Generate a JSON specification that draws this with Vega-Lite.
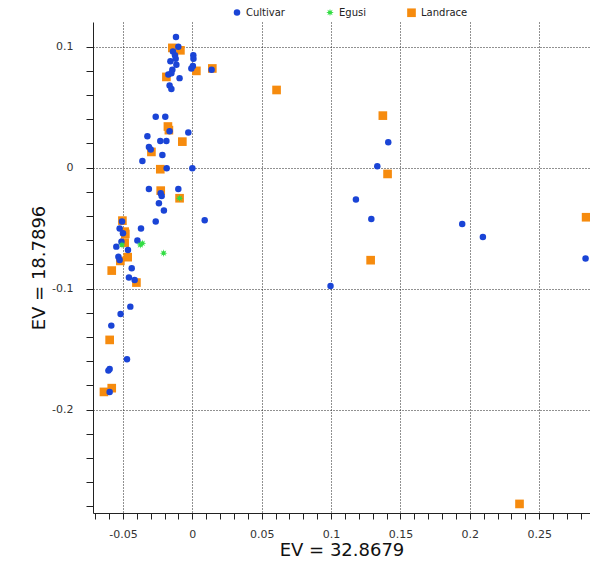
{
  "$schema": "https://vega.github.io/schema/vega-lite/v6.json",
  "autosize": {"type": "none"},
  "padding": {"left": 93, "top": 22, "right": 0, "bottom": 59},
  "width": 497,
  "height": 491,
  "background": "white",
  "config": {
    "view": {"stroke": null},
    "axis": {
      "domainColor": "#222",
      "tickColor": "#222",
      "labelColor": "#333",
      "labelFont": "DejaVu Sans",
      "labelFontSize": 11,
      "titleFont": "DejaVu Sans",
      "titleFontWeight": "normal",
      "titleFontSize": 18,
      "titleColor": "#111",
      "gridColor": "#222",
      "gridDash": [1, 2],
      "gridWidth": 1
    }
  },
  "data": {
    "values": [
      {"group": "Landrace", "pc1": -0.0144, "pc2": 0.099},
      {"group": "Landrace", "pc1": -0.0086, "pc2": 0.097},
      {"group": "Landrace", "pc1": 0.0029, "pc2": 0.080},
      {"group": "Landrace", "pc1": 0.0144, "pc2": 0.082},
      {"group": "Landrace", "pc1": -0.0187, "pc2": 0.075},
      {"group": "Landrace", "pc1": -0.0176, "pc2": 0.034},
      {"group": "Landrace", "pc1": -0.0169, "pc2": 0.031},
      {"group": "Landrace", "pc1": -0.0072, "pc2": 0.0215},
      {"group": "Landrace", "pc1": -0.0295, "pc2": 0.013},
      {"group": "Landrace", "pc1": -0.0231, "pc2": -0.0013},
      {"group": "Landrace", "pc1": -0.0228, "pc2": -0.019},
      {"group": "Landrace", "pc1": -0.0092, "pc2": -0.0253},
      {"group": "Landrace", "pc1": -0.0504, "pc2": -0.0438},
      {"group": "Landrace", "pc1": -0.0488, "pc2": -0.0529},
      {"group": "Landrace", "pc1": -0.0483, "pc2": -0.0548},
      {"group": "Landrace", "pc1": -0.0488, "pc2": -0.062},
      {"group": "Landrace", "pc1": -0.0466, "pc2": -0.074},
      {"group": "Landrace", "pc1": -0.0519, "pc2": -0.0771},
      {"group": "Landrace", "pc1": -0.0581, "pc2": -0.0851},
      {"group": "Landrace", "pc1": -0.0403, "pc2": -0.095},
      {"group": "Landrace", "pc1": -0.0596, "pc2": -0.1424},
      {"group": "Landrace", "pc1": -0.0581, "pc2": -0.1823},
      {"group": "Landrace", "pc1": -0.0637, "pc2": -0.1854},
      {"group": "Landrace", "pc1": 0.1373, "pc2": 0.043},
      {"group": "Landrace", "pc1": 0.0607, "pc2": 0.0642},
      {"group": "Landrace", "pc1": 0.1407, "pc2": -0.0052},
      {"group": "Landrace", "pc1": 0.1285, "pc2": -0.0765},
      {"group": "Landrace", "pc1": 0.2838, "pc2": -0.041},
      {"group": "Landrace", "pc1": 0.2358, "pc2": -0.278},
      {"group": "Cultivar", "pc1": -0.0118, "pc2": 0.108},
      {"group": "Cultivar", "pc1": -0.0101, "pc2": 0.100},
      {"group": "Cultivar", "pc1": -0.0140, "pc2": 0.096},
      {"group": "Cultivar", "pc1": 0.0007, "pc2": 0.093},
      {"group": "Cultivar", "pc1": 0.0008, "pc2": 0.090},
      {"group": "Cultivar", "pc1": -0.0125, "pc2": 0.093},
      {"group": "Cultivar", "pc1": -0.0158, "pc2": 0.088},
      {"group": "Cultivar", "pc1": -0.0120, "pc2": 0.090},
      {"group": "Cultivar", "pc1": -0.0115, "pc2": 0.085},
      {"group": "Cultivar", "pc1": 0.0004, "pc2": 0.084},
      {"group": "Cultivar", "pc1": -0.0007, "pc2": 0.082},
      {"group": "Cultivar", "pc1": 0.0139, "pc2": 0.081},
      {"group": "Cultivar", "pc1": -0.0144, "pc2": 0.081},
      {"group": "Cultivar", "pc1": -0.0173, "pc2": 0.077},
      {"group": "Cultivar", "pc1": -0.0151, "pc2": 0.078},
      {"group": "Cultivar", "pc1": -0.0092, "pc2": 0.074},
      {"group": "Cultivar", "pc1": -0.0164, "pc2": 0.068},
      {"group": "Cultivar", "pc1": -0.0151, "pc2": 0.065},
      {"group": "Cultivar", "pc1": -0.0264, "pc2": 0.042},
      {"group": "Cultivar", "pc1": -0.0195, "pc2": 0.042},
      {"group": "Cultivar", "pc1": -0.0164, "pc2": 0.030},
      {"group": "Cultivar", "pc1": -0.0029, "pc2": 0.029},
      {"group": "Cultivar", "pc1": -0.0324, "pc2": 0.026},
      {"group": "Cultivar", "pc1": -0.0231, "pc2": 0.022},
      {"group": "Cultivar", "pc1": -0.0187, "pc2": 0.022},
      {"group": "Cultivar", "pc1": -0.0313, "pc2": 0.017},
      {"group": "Cultivar", "pc1": -0.0300, "pc2": 0.015},
      {"group": "Cultivar", "pc1": -0.0216, "pc2": 0.0105},
      {"group": "Cultivar", "pc1": -0.0360, "pc2": 0.0055},
      {"group": "Cultivar", "pc1": -0.0185, "pc2": -0.0005},
      {"group": "Cultivar", "pc1": 0.0, "pc2": -0.0005},
      {"group": "Cultivar", "pc1": -0.0313, "pc2": -0.0176},
      {"group": "Cultivar", "pc1": -0.0228, "pc2": -0.0212},
      {"group": "Cultivar", "pc1": -0.0221, "pc2": -0.0234},
      {"group": "Cultivar", "pc1": -0.0101, "pc2": -0.0176},
      {"group": "Cultivar", "pc1": -0.0241, "pc2": -0.0294},
      {"group": "Cultivar", "pc1": -0.0205, "pc2": -0.0355},
      {"group": "Cultivar", "pc1": -0.0264, "pc2": -0.0446},
      {"group": "Cultivar", "pc1": -0.0507, "pc2": -0.0446},
      {"group": "Cultivar", "pc1": -0.0370, "pc2": -0.0504},
      {"group": "Cultivar", "pc1": -0.0524, "pc2": -0.0504},
      {"group": "Cultivar", "pc1": -0.0500, "pc2": -0.0542},
      {"group": "Cultivar", "pc1": -0.0396, "pc2": -0.0603},
      {"group": "Cultivar", "pc1": -0.0511, "pc2": -0.0612},
      {"group": "Cultivar", "pc1": -0.0548, "pc2": -0.0653},
      {"group": "Cultivar", "pc1": -0.0464, "pc2": -0.068},
      {"group": "Cultivar", "pc1": -0.0533, "pc2": -0.0736},
      {"group": "Cultivar", "pc1": -0.0524, "pc2": -0.0763},
      {"group": "Cultivar", "pc1": -0.0437, "pc2": -0.0831},
      {"group": "Cultivar", "pc1": -0.0457, "pc2": -0.0909},
      {"group": "Cultivar", "pc1": -0.0416, "pc2": -0.0928},
      {"group": "Cultivar", "pc1": 0.0089, "pc2": -0.0435},
      {"group": "Cultivar", "pc1": -0.0447, "pc2": -0.1149},
      {"group": "Cultivar", "pc1": -0.0517, "pc2": -0.1209},
      {"group": "Cultivar", "pc1": -0.0584, "pc2": -0.1306},
      {"group": "Cultivar", "pc1": -0.0471, "pc2": -0.1584},
      {"group": "Cultivar", "pc1": -0.0596, "pc2": -0.1664},
      {"group": "Cultivar", "pc1": -0.0605, "pc2": -0.1678},
      {"group": "Cultivar", "pc1": -0.0596, "pc2": -0.1854},
      {"group": "Cultivar", "pc1": 0.1412, "pc2": 0.021},
      {"group": "Cultivar", "pc1": 0.1333, "pc2": 0.0011},
      {"group": "Cultivar", "pc1": 0.1179, "pc2": -0.0264},
      {"group": "Cultivar", "pc1": 0.1290, "pc2": -0.0424},
      {"group": "Cultivar", "pc1": 0.0996, "pc2": -0.0978},
      {"group": "Cultivar", "pc1": 0.1945, "pc2": -0.0465},
      {"group": "Cultivar", "pc1": 0.2094, "pc2": -0.0573},
      {"group": "Cultivar", "pc1": 0.2834, "pc2": -0.0752},
      {"group": "Egusi", "pc1": -0.0092, "pc2": -0.0253},
      {"group": "Egusi", "pc1": -0.0360, "pc2": -0.0625},
      {"group": "Egusi", "pc1": -0.0375, "pc2": -0.0639},
      {"group": "Egusi", "pc1": -0.0507, "pc2": -0.0639},
      {"group": "Egusi", "pc1": -0.0207, "pc2": -0.0707}
    ]
  },
  "mark": {"type": "point", "filled": true, "opacity": 1, "clip": true},
  "encoding": {
    "x": {
      "field": "pc1",
      "type": "quantitative",
      "scale": {"domain": [-0.0716, 0.2866], "nice": false, "zero": false},
      "axis": {
        "title": "EV = 32.8679",
        "values": [-0.07, -0.06, -0.05, -0.04, -0.03, -0.02, -0.01, 0, 0.01, 0.02, 0.03, 0.04, 0.05, 0.06, 0.07, 0.08, 0.09, 0.1, 0.11, 0.12, 0.13, 0.14, 0.15, 0.16, 0.17, 0.18, 0.19, 0.2, 0.21, 0.22, 0.23, 0.24, 0.25, 0.26, 0.27, 0.28],
        "labelExpr": "abs(round(datum.value*100)) % 5 == 0 ? '' + datum.value : ''",
        "labelOverlap": false,
        "labelFlush": false,
        "tickSize": 6,
        "labelPadding": 9,
        "titlePadding": 2,
        "grid": true,
        "gridOpacity": {"condition": {"test": "abs(round(datum.value*100)) % 5 == 0", "value": 1}, "value": 0}
      }
    },
    "y": {
      "field": "pc2",
      "type": "quantitative",
      "scale": {"domain": [-0.2855, 0.1204], "nice": false, "zero": false},
      "axis": {
        "title": "EV = 18.7896",
        "values": [-0.28, -0.26, -0.24, -0.22, -0.2, -0.18, -0.16, -0.14, -0.12, -0.1, -0.08, -0.06, -0.04, -0.02, 0, 0.02, 0.04, 0.06, 0.08, 0.1],
        "labelExpr": "abs(round(datum.value*100)) % 10 == 0 ? '' + datum.value : ''",
        "labelOverlap": false,
        "labelFlush": false,
        "tickSize": 7,
        "labelPadding": 13,
        "titlePadding": 3,
        "grid": true,
        "gridOpacity": {"condition": {"test": "abs(round(datum.value*100)) % 10 == 0", "value": 1}, "value": 0}
      }
    },
    "color": {
      "field": "group",
      "type": "nominal",
      "scale": {"domain": ["Cultivar", "Egusi", "Landrace"], "range": ["#1a44d6", "#33dd44", "#f68b0e"]},
      "legend": {
        "title": null,
        "orient": "none",
        "direction": "horizontal",
        "legendX": 139,
        "legendY": -15,
        "labelFont": "DejaVu Sans",
        "labelFontSize": 10,
        "labelColor": "#222",
        "columnPadding": 40,
        "symbolSize": 45
      }
    },
    "shape": {
      "field": "group",
      "type": "nominal",
      "scale": {
        "domain": ["Cultivar", "Egusi", "Landrace"],
        "range": ["circle", "M0,-1L0.172,-0.416L0.707,-0.707L0.416,-0.172L1,0L0.416,0.172L0.707,0.707L0.172,0.416L0,1L-0.172,0.416L-0.707,0.707L-0.416,0.172L-1,0L-0.416,-0.172L-0.707,-0.707L-0.172,-0.416Z", "square"]
      }
    },
    "size": {
      "field": "group",
      "type": "nominal",
      "scale": {"domain": ["Cultivar", "Egusi", "Landrace"], "range": [42, 75, 58]},
      "legend": null
    }
  }
}
